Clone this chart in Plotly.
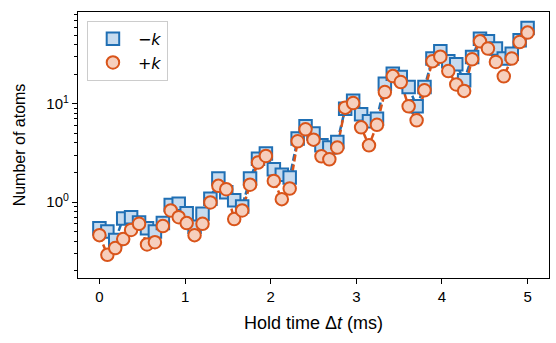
import plotly.graph_objects as go

# Hold time (ms)
t_ms = [0.000, 0.093, 0.185, 0.278, 0.370, 0.463, 0.556, 0.648, 0.741, 0.833,
        0.926, 1.019, 1.111, 1.204, 1.296, 1.389, 1.481, 1.574, 1.667, 1.759,
        1.852, 1.944, 2.037, 2.130, 2.222, 2.315, 2.407, 2.500, 2.593, 2.685,
        2.778, 2.870, 2.963, 3.056, 3.148, 3.241, 3.333, 3.426, 3.519, 3.611,
        3.704, 3.796, 3.889, 3.981, 4.074, 4.167, 4.259, 4.352, 4.444, 4.537,
        4.630, 4.722, 4.815, 4.907, 5.000]

# Number of atoms, -k (squares)
n_minus = [0.54, 0.50, 0.41, 0.68, 0.70, 0.62, 0.54, 0.50, 0.61, 0.93,
           0.96, 0.77, 0.56, 0.76, 1.08, 1.73, 1.26, 1.04, 0.90, 1.73,
           2.76, 3.11, 2.15, 1.89, 1.78, 4.42, 5.89, 4.97, 3.77, 3.58,
           4.08, 8.91, 10.75, 7.80, 6.62, 7.05, 16.0, 20.2, 18.7, 14.8,
           9.41, 14.8, 28.8, 34.1, 27.0, 25.2, 17.3, 29.9, 45.9, 43.1,
           36.4, 28.8, 32.3, 44.2, 58.9]

# Number of atoms, +k (circles)
n_plus = [0.46, 0.29, 0.34, 0.42, 0.52, 0.60, 0.37, 0.39, 0.57, 0.82,
          0.70, 0.61, 0.46, 0.60, 0.99, 1.46, 1.35, 0.67, 0.82, 1.50,
          2.52, 2.94, 1.64, 1.07, 1.37, 4.15, 5.49, 4.31, 2.92, 2.72,
          3.58, 9.12, 10.16, 5.75, 3.77, 6.10, 13.15, 19.1, 16.6, 9.41,
          6.78, 13.7, 27.0, 30.1, 21.5, 15.7, 13.5, 28.3, 43.1, 36.4,
          26.6, 19.0, 28.8, 42.4, 52.9]

labels = ["\u2212<i>k</i>", "+<i>k</i>"]

blue_edge = "#1f6fb4"
blue_fill = "#c6dbef"
orange_edge = "#d9541a"
orange_fill = "#f6cfbd"

FONT = "Liberation Sans, Arial, sans-serif"

fig = go.Figure()

# connecting dashed lines (underneath markers)
fig.add_trace(go.Scatter(x=t_ms, y=n_minus, mode="lines", showlegend=False,
                         line=dict(color=blue_edge, width=2.5, dash="7px,3px"),
                         hoverinfo="skip"))
fig.add_trace(go.Scatter(x=t_ms, y=n_plus, mode="lines", showlegend=False,
                         line=dict(color=orange_edge, width=2.5, dash="7px,3px"),
                         hoverinfo="skip"))

fig.add_trace(go.Scatter(
    x=t_ms, y=n_minus, mode="markers", name=labels[0],
    marker=dict(symbol="square", size=12.5, color=blue_fill,
                line=dict(color=blue_edge, width=2)),
    error_y=dict(type="percent", value=13, color=blue_edge, thickness=2, width=0),
))
fig.add_trace(go.Scatter(
    x=t_ms, y=n_plus, mode="markers", name=labels[1],
    marker=dict(symbol="circle", size=12.5, color=orange_fill,
                line=dict(color=orange_edge, width=2)),
    error_y=dict(type="percent", value=13, color=orange_edge, thickness=2, width=0),
))

minor_vals = [0.2, 0.3, 0.4, 0.5, 0.6, 0.7, 0.8, 0.9,
              2, 3, 4, 5, 6, 7, 8, 9, 20, 30, 40, 50, 60, 70, 80]

fig.update_layout(
    width=556, height=343,
    margin=dict(l=78, r=7, t=12, b=65),
    paper_bgcolor="white", plot_bgcolor="white",
    font=dict(family=FONT, size=14, color="black"),
    legend=dict(x=0.019, y=0.967, xanchor="left", yanchor="top",
                bgcolor="rgba(255,255,255,0.8)", bordercolor="#cccccc", borderwidth=1,
                font=dict(family="DejaVu Sans", size=16), tracegroupgap=0,
                itemwidth=40),
    xaxis=dict(range=[-0.25, 5.25], tickvals=[0, 1, 2, 3, 4, 5],
               ticks="outside", ticklen=5, tickwidth=1.2, tickcolor="black",
               tickfont=dict(family=FONT, size=15, color="black"),
               showline=True, linecolor="black", linewidth=1.2, mirror=True,
               showgrid=False, zeroline=False,
               title=dict(text="Hold time \u0394<i>t</i> (ms)", standoff=12,
                          font=dict(family=FONT, size=18, color="black"))),
    yaxis=dict(type="log", range=[-0.773, 1.933], tickvals=[1, 10],
               ticktext=["10<sup>0</sup>", "10<sup>1</sup>"],
               ticks="outside", ticklen=5, tickwidth=1.2, tickcolor="black",
               tickfont=dict(family=FONT, size=15, color="black"),
               minor=dict(tickvals=minor_vals, ticks="outside", ticklen=3,
                          tickwidth=1, tickcolor="black", showgrid=False),
               showline=True, linecolor="black", linewidth=1.2, mirror=True,
               showgrid=False, zeroline=False,
               title=dict(text="Number of atoms", standoff=16,
                          font=dict(family=FONT, size=16, color="black"))),
)

fig.write_html("out.html")
